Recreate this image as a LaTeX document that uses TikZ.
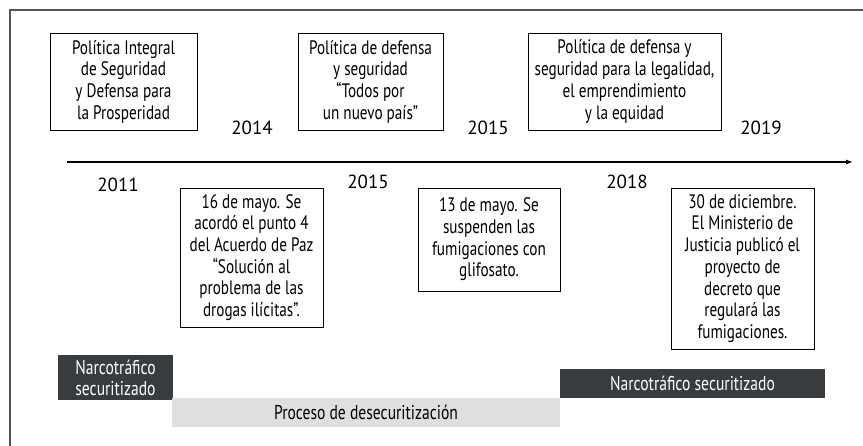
\documentclass[tikz,border=0pt]{standalone}
\usepackage{fontspec}
\setmainfont{PT Sans}[FakeStretch=0.78]
\newfontfamily\yearfont{PT Sans}
\usepackage{tikz}
\usetikzlibrary{positioning,arrows.meta}

\definecolor{darkbar}{HTML}{393C3F}
\definecolor{lightbar}{HTML}{E0DFDD}
\definecolor{framegray}{HTML}{555555}

\tikzset{
  eventbox/.style={draw, line width=0.9pt, align=center, inner sep=0pt, font=\fontsize{19.5}{21.7}\selectfont},
  yearlabel/.style={font=\yearfont\fontsize{19}{20}\selectfont},
  barlabel/.style={align=center, inner sep=0pt, font=\fontsize{20}{21}\selectfont}
}

\begin{document}
\begin{tikzpicture}[x=1pt,y=-1pt]
    \useasboundingbox (0,0) rectangle (863,446);
    % frame (only top and left edges show)
    \draw[framegray, line width=1.8pt] (10,446) -- (10,10) -- (863,10);

    % policies above the line
    \node[eventbox, minimum width=147pt, minimum height=97pt] (pol1) at (123.5,81.5)
        {Política Integral\\de Seguridad\\y Defensa para\\la Prosperidad};
    \node[eventbox, minimum width=145pt, minimum height=97pt] (pol2) at (370.5,81.5)
        {Política de defensa\\y seguridad\\“Todos por\\un nuevo país”};
    \node[eventbox, minimum width=193pt, minimum height=97pt] (pol3) at (624.5,81.5)
        {Política de defensa y\\seguridad para la legalidad,\\el emprendimiento\\y la equidad};

    \node[yearlabel] (y2014) at (252,128) {2014};
    \node[yearlabel] (y2015a) at (488,128) {2015};
    \node[yearlabel] (y2019) at (761,128) {2019};

    % timeline
    \coordinate (tstart) at (67,162);
    \coordinate (tend) at (853,162);
    \draw[line width=1.3pt, -{Latex[length=7pt,width=5pt]}] (tstart) -- (tend);

    \node[yearlabel] (y2011) at (118,185) {2011};
    \node[yearlabel] (y2015b) at (368,182) {2015};
    \node[yearlabel] (y2018) at (627,182) {2018};

    % events below the line
    \node[eventbox, minimum width=143pt, minimum height=139pt] (ev1) at (251.5,257.5)
        {16 de mayo. Se\\acordó el punto 4\\del Acuerdo de Paz\\“Solución al\\problema de las\\drogas ilícitas”.};
    \node[eventbox, minimum width=142pt, minimum height=103pt] (ev2) at (489,239.5)
        {13 de mayo. Se\\suspenden las\\fumigaciones con\\glifosato.};
    \node[eventbox, minimum width=143pt, minimum height=161pt] (ev3) at (742.5,268.5)
        {30 de diciembre.\\El Ministerio de\\Justicia publicó el\\proyecto de\\decreto que\\regulará las\\fumigaciones.};

    % phases
    \node[fill=darkbar, text=white, barlabel, minimum width=115pt, minimum height=45pt] (sec1) at (115.5,377.5)
        {Narcotráfico\\securitizado};
    \node[fill=lightbar, barlabel, minimum width=388pt, minimum height=29pt] (desec) at (366,412.5)
        {Proceso de desecuritización};
    \node[fill=darkbar, text=white, barlabel, minimum width=265pt, minimum height=29pt] (sec2) at (692.5,383.5)
        {Narcotráfico securitizado};
\end{tikzpicture}
\end{document}
